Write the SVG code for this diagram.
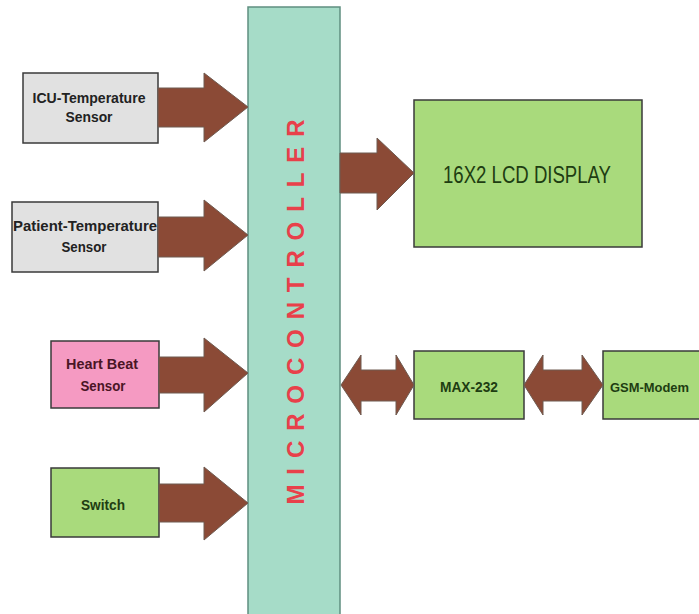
<svg xmlns="http://www.w3.org/2000/svg" width="699" height="614" viewBox="0 0 699 614">
<style>
.box{stroke:#3a3a3a;stroke-width:1.5}
.grey{fill:#e1e1e1}
.pink{fill:#f59ac2}
.green{fill:#a9da7c}
.arrow{fill:#8b4a36;stroke:#6e5a50;stroke-width:1}
.lbl{font-family:"Liberation Sans Narrow","Liberation Sans",Arial,sans-serif;font-weight:bold;font-size:15px;text-anchor:middle}
</style>
<rect width="699" height="614" fill="#ffffff"/>
<g id="microcontroller">
<rect x="248" y="7" width="92" height="612" fill="#a6dcc8" stroke="#5f8f80" stroke-width="1.5"/>
<text transform="translate(304,312) rotate(-90)" text-anchor="middle" font-family="'Liberation Sans',Arial,sans-serif" font-weight="bold" font-size="24" fill="#e8404a" textLength="385" lengthAdjust="spacing">MICROCONTROLLER</text>
</g>
<g id="icu-temp">
<rect class="box grey" x="23" y="73" width="135" height="70"/>
<text class="lbl" x="89" y="103" fill="#222" textLength="113" lengthAdjust="spacingAndGlyphs">ICU-Temperature</text>
<text class="lbl" x="89" y="122" fill="#222" textLength="47" lengthAdjust="spacingAndGlyphs">Sensor</text>
</g>
<g id="patient-temp">
<rect class="box grey" x="12" y="202" width="146" height="70"/>
<text class="lbl" x="85" y="231" fill="#222" textLength="144" lengthAdjust="spacingAndGlyphs">Patient-Temperature</text>
<text class="lbl" x="84" y="252" fill="#222" textLength="45" lengthAdjust="spacingAndGlyphs">Sensor</text>
</g>
<g id="heart-beat">
<rect class="box pink" x="51" y="341" width="108" height="67"/>
<text class="lbl" x="102" y="369" fill="#4a1525" textLength="72" lengthAdjust="spacingAndGlyphs">Heart Beat</text>
<text class="lbl" x="103" y="391" fill="#4a1525" textLength="45" lengthAdjust="spacingAndGlyphs">Sensor</text>
</g>
<g id="switch">
<rect class="box green" x="51" y="468" width="108" height="69"/>
<text class="lbl" x="103" y="510" fill="#1e3d12" textLength="44" lengthAdjust="spacingAndGlyphs" font-size="16">Switch</text>
</g>
<g id="lcd">
<rect class="box green" x="414" y="100" width="228" height="147"/>
<text x="527" y="183" text-anchor="middle" font-family="'Liberation Sans Narrow','Liberation Sans',Arial,sans-serif" font-size="24" fill="#1e3d12" textLength="168" lengthAdjust="spacingAndGlyphs">16X2 LCD DISPLAY</text>
</g>
<g id="max232">
<rect class="box green" x="414" y="351" width="110" height="68"/>
<text class="lbl" x="469" y="392" fill="#1e3d12" textLength="58" lengthAdjust="spacingAndGlyphs">MAX-232</text>
</g>
<g id="gsm-modem">
<rect class="green" x="603" y="351" width="96" height="68"/>
<polyline points="699,351 603,351 603,419 699,419" fill="none" stroke="#3a3a3a" stroke-width="1.5"/>
<text x="610" y="392" fill="#1e3d12" font-family="'Liberation Sans',Arial,sans-serif" font-weight="bold" font-size="13" textLength="79" lengthAdjust="spacingAndGlyphs">GSM-Modem</text>
</g>
<g id="connectors">
<polygon class="arrow" points="158,88 204,88 204,73 248,107 204,142 204,127 158,127"/>
<polygon class="arrow" points="158,217 204,217 204,200 248,235 204,271 204,257 158,257"/>
<polygon class="arrow" points="159,357 204,357 204,338 248,373 204,412 204,393 159,393"/>
<polygon class="arrow" points="159,484 204,484 204,467 248,503 204,540 204,522 159,522"/>
<polygon class="arrow" points="340,153 377,153 377,138 414,173 377,210 377,193 340,193"/>
<polygon class="arrow" points="341,385 361,355 361,370 396,370 396,355 414,385 396,415 396,401 361,401 361,415"/>
<polygon class="arrow" points="524,385 543,355 543,370 582,370 582,355 603,385 582,415 582,401 543,401 543,415"/>
</g>
</svg>
